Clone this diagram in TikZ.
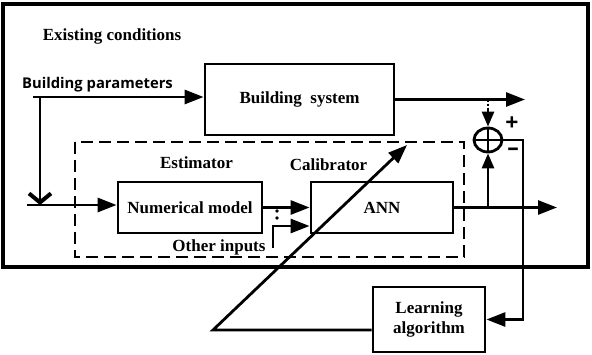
\documentclass[tikz,border=0pt]{standalone}
\usepackage{fontspec}
\setmainfont{Liberation Serif}
\newfontfamily\labelsans{Open Sans}
\usetikzlibrary{arrows.meta,shapes.geometric,calc}

\begin{document}
\begin{tikzpicture}[x=1pt,y=-1pt,
  wire/.style={line width=2.8pt},
  blk/.style={draw,line width=2.8pt,inner sep=0pt,align=center,
    font=\fontsize{17}{20}\selectfont\bfseries},
  tip/.style={-{Triangle[length=19pt,width=14pt]}},
  smalltip/.style={-{Triangle[length=15pt,width=12pt]}},
  lbl/.style={anchor=base,inner sep=0pt,font=\fontsize{17}{20}\selectfont\bfseries},
  sign/.style={inner sep=0pt,text height=13pt,text depth=0pt,
    font=\labelsans\fontsize{23}{23}\selectfont\bfseries}
]
\useasboundingbox (0,0) rectangle (592,354);

% frames
\draw[line width=3.2pt] (3,4) rectangle (588,267);
\draw[wire,dash pattern=on 12pt off 6pt] (75,142) rectangle (464,257);

% blocks
\node[blk,minimum width=189pt,minimum height=71pt] (bsys) at (299.5,99.5) {Building\ \ system};
\node[blk,minimum width=144pt,minimum height=51pt] (num) at (190,207.5) {Numerical model};
\node[blk,minimum width=142pt,minimum height=51pt] (ann) at (382,207.5) {ANN};
\node[blk,minimum width=112pt,minimum height=65pt] (learn) at (429,319.5) {Learning\\algorithm};

% summing junction
\node[draw,ellipse,line width=2.8pt,minimum width=28pt,minimum height=24pt,inner sep=0pt] (sum) at (488,140) {};
\draw[wire] (sum.north) -- (sum.south) (sum.west) -- (sum.east);
\node[sign] (plus) at (512,124) {+};
\node[sign] (minus) at (513,149) {–};

% labels
\node[lbl] (exist) at (112,40) {Existing conditions};
\node[lbl,font=\labelsans\fontsize{14.8}{16}\selectfont\bfseries] (bpar) at (97.5,88) {Building parameters};
\node[lbl] (est) at (196.5,168) {Estimator};
\node[lbl] (cal) at (328.5,170) {Calibrator};
\node[lbl] (oth) at (219,251) {Other inputs};

% building parameters feed
\coordinate (bpstart) at (33,97);
\coordinate (bpdrop) at (40,97);
\coordinate (inleft) at (27,205);
\draw[wire,tip] (bpstart) -- (bpstart -| bsys.west);
\draw[wire,-{Straight Barb[length=9pt,width=22pt,line width=4pt]}] (bpdrop) -- (bpdrop |- inleft);
\draw[wire,tip] (inleft) -- (inleft -| num.west);

% estimator to ANN
\draw[wire,tip] (num.east) -- (ann.west);
\coordinate (othfoot) at (273,248);
\coordinate (othknee) at (273,226);
\draw[wire,tip] (othfoot) -- (othknee) -- (othknee -| ann.west);
\fill (277,211) circle[radius=1.8pt] (277,218) circle[radius=1.8pt];

% outputs
\coordinate (outend) at (557,0);
\coordinate (bout) at (525,0);
\draw[wire,tip] (ann.east) -- (ann.east -| outend);
\draw[wire,smalltip] (ann.east -| sum.south) -- (sum.south);
\draw[wire,tip] (bsys.east) -- (bsys.east -| bout);
\coordinate (tap) at (bsys.east -| sum.north);
\draw[line width=2.8pt,dash pattern=on 2pt off 2pt] (tap) -- ++(0,8) coordinate (tapend);
\draw[wire,smalltip] (tapend) -- (sum.north);

% error feedback to learning algorithm
\coordinate (fbx) at (523,0);
\draw[wire,tip] (sum.east) -- (sum.east -| fbx) |- (learn.east);

% calibration path
\coordinate (calknee) at (213,330);
\coordinate (caltip) at (407,145);
\draw[wire,tip] (learn.west |- calknee) -- (calknee) -- (caltip);
\end{tikzpicture}
\end{document}
